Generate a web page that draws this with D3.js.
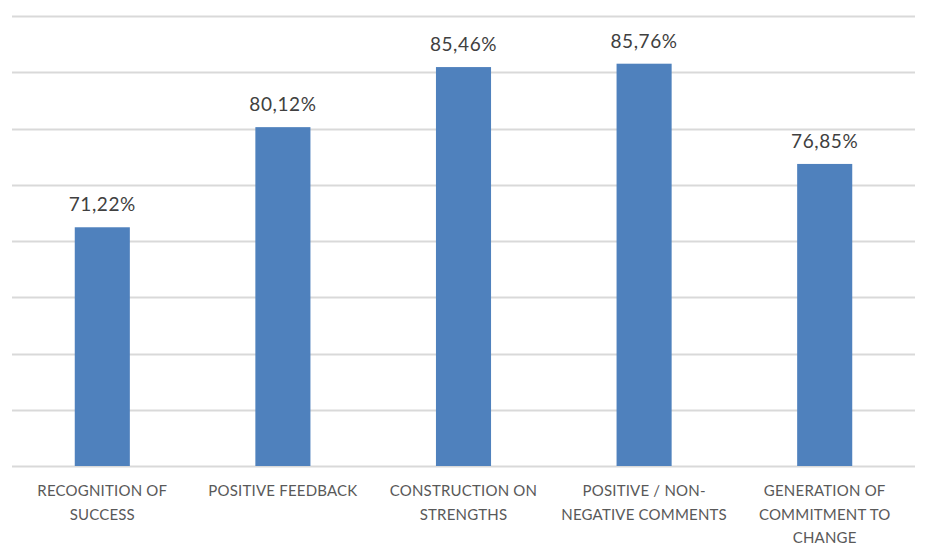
<!DOCTYPE html>
<html>
<head>
<meta charset="utf-8">
<script src="https://cdn.jsdelivr.net/npm/d3@7"></script>
<style>
  html, body { margin: 0; padding: 0; background: #ffffff; }
  svg { display: block; }
</style>
</head>
<body>
<svg id="chart" width="928" height="553"></svg>
<script>
const categories = [
  ["RECOGNITION OF", "SUCCESS"],
  ["POSITIVE FEEDBACK"],
  ["CONSTRUCTION ON", "STRENGTHS"],
  ["POSITIVE / NON-", "NEGATIVE COMMENTS"],
  ["GENERATION OF", "COMMITMENT TO", "CHANGE"]
];
const values = [71.22, 80.12, 85.46, 85.76, 76.85];
const gridTicks = [50, 55, 60, 65, 70, 75, 80, 85, 90];

(function () {
const svg = d3.select("#chart");
const pLeft = 12, pRight = 915, pTop = 16, pBottom = 466;

const x = d3.scaleBand()
  .domain(d3.range(values.length))
  .range([pLeft, pRight])
  .paddingInner(0.695)
  .paddingOuter(0.3475);

const y = d3.scaleLinear().domain([50, 90]).range([pBottom, pTop]);

// gridlines
svg.append("g")
  .selectAll("line")
  .data(gridTicks)
  .join("line")
  .attr("x1", pLeft).attr("x2", pRight)
  .attr("y1", d => Math.round(y(d)) + 0.5)
  .attr("y2", d => Math.round(y(d)) + 0.5)
  .attr("stroke", "#d9d9d9")
  .attr("stroke-width", 2);

// bars
svg.append("g")
  .selectAll("rect")
  .data(values)
  .join("rect")
  .attr("x", (d, i) => x(i))
  .attr("width", x.bandwidth())
  .attr("y", d => y(d))
  .attr("height", d => y(50) - y(d))
  .attr("fill", "#4f81bd");

// data labels
const fmt = v => v.toFixed(2).replace(".", ",") + "%";
svg.append("g")
  .selectAll("text")
  .data(values)
  .join("text")
  .attr("x", (d, i) => x(i) + x.bandwidth() / 2)
  .attr("y", d => y(d) - 16)
  .attr("text-anchor", "middle")
  .attr("font-family", "Lato, 'Liberation Sans', sans-serif")
  .attr("font-size", 19)
  .attr("letter-spacing", 0.6)
  .attr("fill", "#404040")
  .text(d => fmt(d));

// category labels
const lab = svg.append("g")
  .selectAll("text")
  .data(categories)
  .join("text")
  .attr("x", (d, i) => x(i) + x.bandwidth() / 2)
  .attr("y", 496)
  .attr("text-anchor", "middle")
  .attr("font-family", "Lato, 'Liberation Sans', sans-serif")
  .attr("font-size", 15)
  .attr("letter-spacing", 0.2)
  .attr("fill", "#595959");
lab.selectAll("tspan")
  .data(d => d)
  .join("tspan")
  .attr("x", function () { return d3.select(this.parentNode).attr("x"); })
  .attr("dy", (d, i) => i === 0 ? 0 : 23.5)
  .text(d => d);
})();
</script>
</body>
</html>
